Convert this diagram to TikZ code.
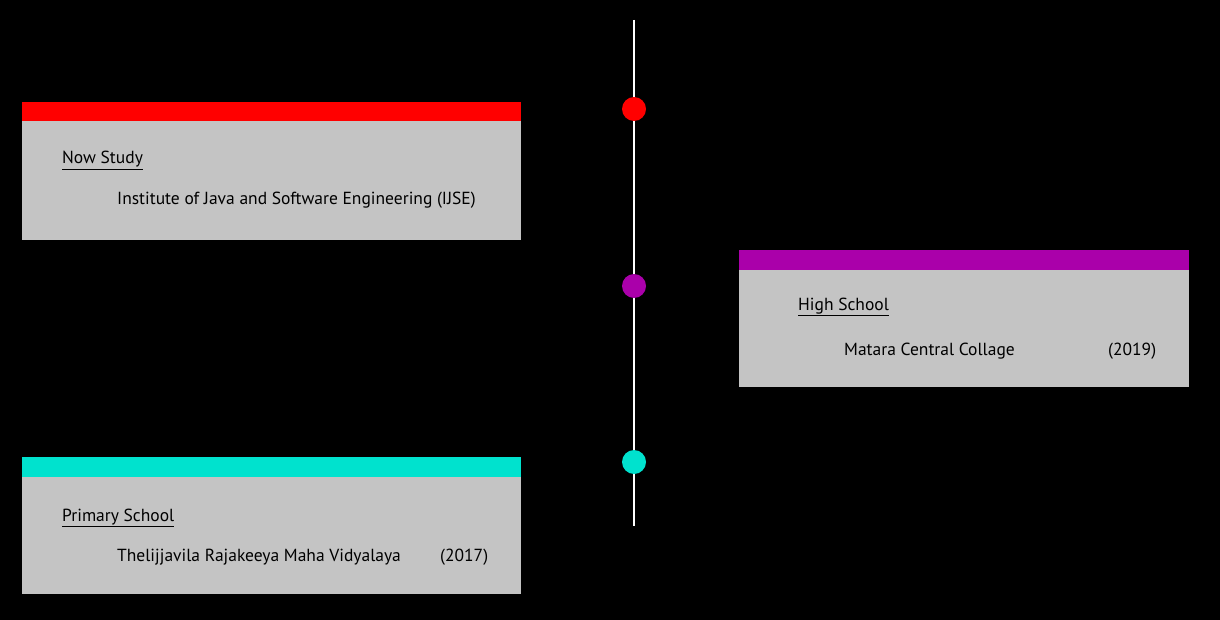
\documentclass[tikz,border=0pt]{standalone}
\usepackage{fontspec}
\setmainfont{PT Sans}
\usetikzlibrary{positioning}
\definecolor{barred}{HTML}{FF0000}
\definecolor{barpurple}{HTML}{AA00AA}
\definecolor{barcyan}{HTML}{00E2CE}
\definecolor{cardgray}{HTML}{C4C4C4}

\begin{document}
\begin{tikzpicture}[x=1pt,y=-1pt,
    card/.style={fill=cardgray, inner sep=0pt, outer sep=0pt, anchor=north west},
    bar/.style={inner sep=0pt, outer sep=0pt, anchor=north west},
    dot/.style={circle, inner sep=0pt, minimum size=24pt},
    label/.style={anchor=base west, inner sep=0pt, font=\fontsize{17.5}{20}\selectfont}]
  \fill[black] (0,0) rectangle (1220,620);
  \useasboundingbox (0,0) rectangle (1220,620);

  % timeline
  \coordinate (top) at (634,20);
  \coordinate (bottom) at (634,526);
  \draw[white, line width=2pt] (top) -- (bottom);
  \node[dot, fill=barred] (dotnow) at (634,109) {};
  \node[dot, fill=barpurple] (dothigh) at (634,286) {};
  \node[dot, fill=barcyan] (dotprimary) at (634,462) {};

  % now study
  \node[card, minimum width=499pt, minimum height=138pt] (now) at (22,102) {};
  \node[bar, fill=barred, minimum width=499pt, minimum height=19pt] (nowbar) at (22,102) {};
  \node[label] (nowhead) at (62,164) {\underline{Now Study}};
  \node[label] (nowplace) at (117,205) {Institute of Java and Software Engineering (IJSE)};

  % high school
  \node[card, minimum width=450pt, minimum height=137pt] (high) at (739,250) {};
  \node[bar, fill=barpurple, minimum width=450pt, minimum height=20pt] (highbar) at (739,250) {};
  \node[label] (highhead) at (798,310) {\underline{High School}};
  \node[label] (highplace) at (844,355) {Matara Central Collage};
  \node[label] (highyear) at (1108,355) {(2019)};

  % primary school
  \node[card, minimum width=499pt, minimum height=137pt] (primary) at (22,457) {};
  \node[bar, fill=barcyan, minimum width=499pt, minimum height=20pt] (primarybar) at (22,457) {};
  \node[label] (primaryhead) at (62,521) {\underline{Primary School}};
  \node[label] (primaryplace) at (117,561) {Thelijjavila Rajakeeya Maha Vidyalaya};
  \node[label] (primaryyear) at (440,561) {(2017)};
\end{tikzpicture}
\end{document}
